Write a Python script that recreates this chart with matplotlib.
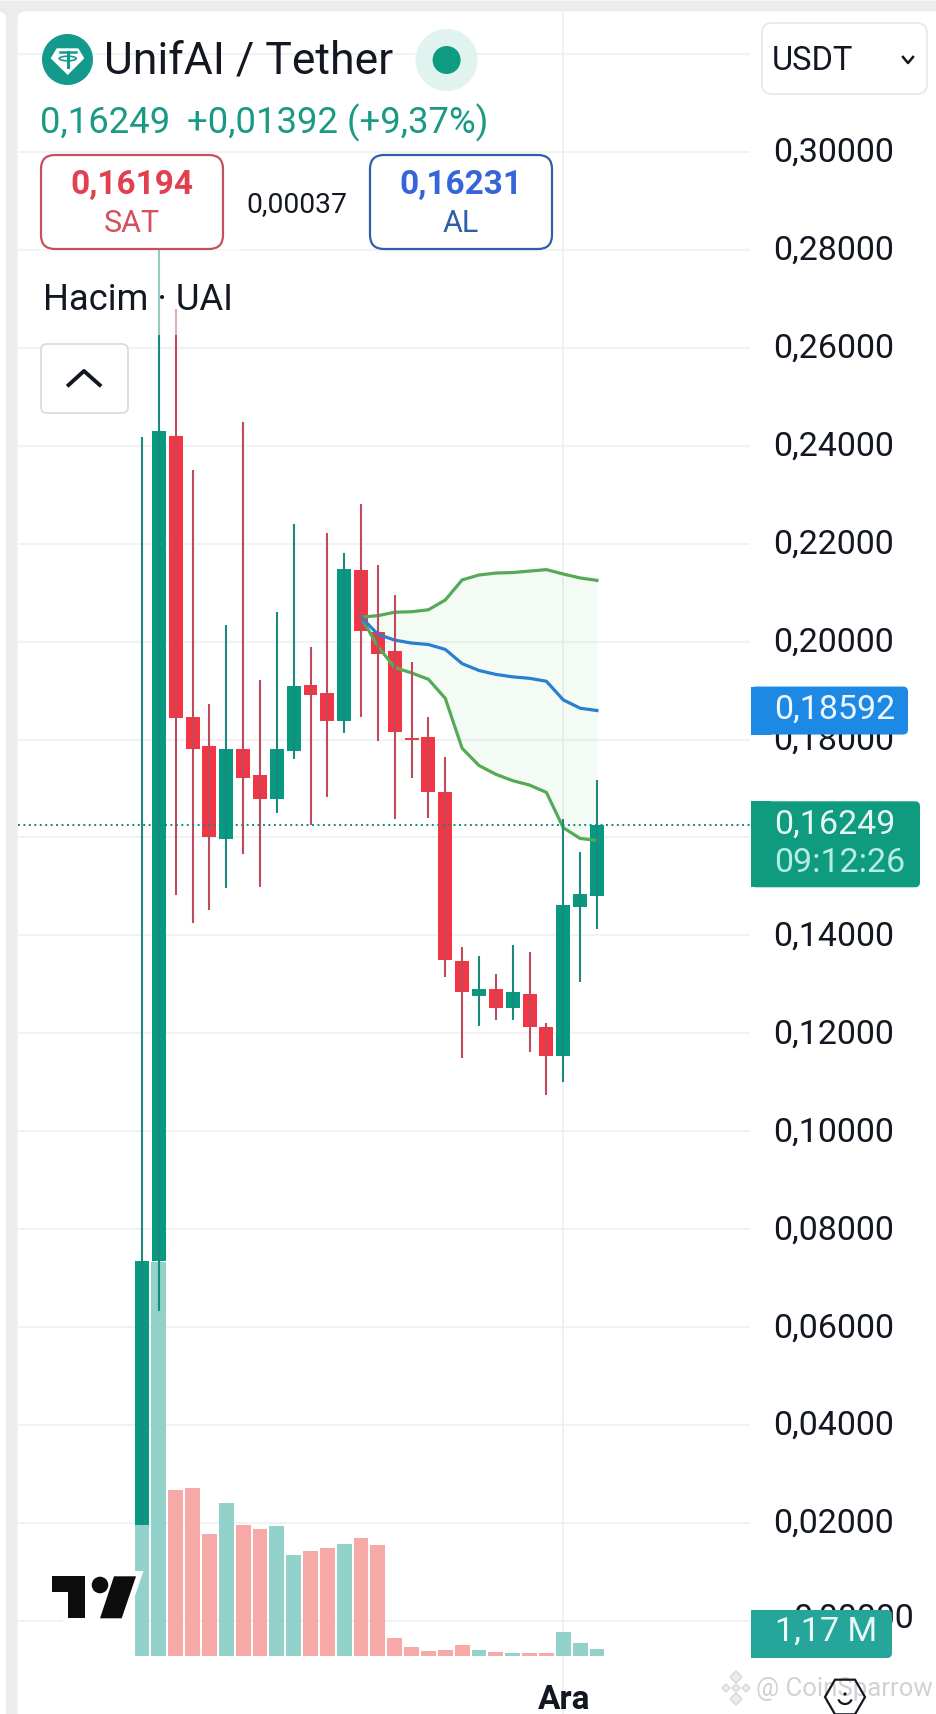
import numpy as np
import matplotlib
matplotlib.use('Agg')
import matplotlib.pyplot as plt
from matplotlib.patches import FancyBboxPatch, Circle, Polygon, Rectangle, Ellipse, Arc
from matplotlib.transforms import ScaledTranslation

plt.rcParams['font.family'] = ['Roboto', 'DejaVu Sans']

W, H = 936, 1715

# candles, oldest first
opens = [0.0196, 0.0735, 0.2420, 0.1846, 0.1787, 0.1597, 0.1781, 0.1728, 0.1679, 0.1777,
         0.1911, 0.1895, 0.1838, 0.2146, 0.2020, 0.1981, 0.1803, 0.1805, 0.1693, 0.1348,
         0.1276, 0.1291, 0.1252, 0.1280, 0.1213, 0.1154, 0.1458, 0.1480]
closes = [0.0735, 0.2430, 0.1844, 0.1781, 0.1601, 0.1781, 0.1721, 0.1679, 0.1781, 0.1909,
          0.1891, 0.1838, 0.2148, 0.2022, 0.1975, 0.1815, 0.1800, 0.1693, 0.1350, 0.1284,
          0.1291, 0.1252, 0.1284, 0.1213, 0.1154, 0.1462, 0.1485, 0.16249]
highs = [0.2418, 0.2800, 0.2680, 0.2350, 0.1873, 0.2034, 0.2448, 0.1922, 0.2060, 0.2240,
         0.1989, 0.2222, 0.2181, 0.2281, 0.2156, 0.2095, 0.1958, 0.1846, 0.1764, 0.1376,
         0.1358, 0.1321, 0.1380, 0.1366, 0.1221, 0.1638, 0.1570, 0.1717]
lows = [0.0196, 0.0633, 0.1482, 0.1425, 0.1452, 0.1497, 0.1566, 0.1499, 0.1650, 0.1760,
        0.1625, 0.1683, 0.1813, 0.1846, 0.1797, 0.1638, 0.1721, 0.1640, 0.1315, 0.1150,
        0.1215, 0.1227, 0.1227, 0.1162, 0.1074, 0.1100, 0.1305, 0.1413]
# volume in millions
volumes = [22.9, 69.2, 29.2, 29.4, 21.4, 26.9, 22.9, 22.3, 22.8, 17.8,
           18.4, 18.9, 19.6, 20.7, 19.4, 3.1, 1.5, 0.8, 1.0, 2.0,
           1.0, 0.64, 0.47, 0.47, 0.47, 4.15, 2.22, 1.17]

# indicator starts at candle 13
band_start = 13
upper = [0.2050, 0.2053, 0.2060, 0.2061, 0.2065, 0.2085, 0.2126, 0.2136, 0.2140, 0.2141,
         0.2144, 0.2147, 0.2138, 0.2130, 0.2125]
middle = [0.2050, 0.2015, 0.2003, 0.1997, 0.1994, 0.1984, 0.1955, 0.1941, 0.1933, 0.1928,
          0.1925, 0.1919, 0.1881, 0.1864, 0.18592]
lower = [0.2050, 0.1990, 0.1947, 0.1936, 0.1923, 0.1884, 0.1782, 0.1747, 0.1729, 0.1716,
         0.1707, 0.1692, 0.1620, 0.1598, 0.1594]

price_ticks = [0.00, 0.02, 0.04, 0.06, 0.08, 0.10, 0.12, 0.14, 0.16, 0.18,
               0.20, 0.22, 0.24, 0.26, 0.28, 0.30, 0.32]
last_price = 0.16249
last_mid = 0.18592
last_vol = 1.17
cross_idx = 25

RED = '#f23645'
GREEN = '#089981'
RED_W = '#bf4a5c'
GREEN_W = '#1b8a7c'

fig = plt.figure(figsize=(W / 100, H / 100), dpi=100, facecolor='#ececec')


def axes_px(left, top, right, bottom, z):
    a = fig.add_axes([left / W, 1 - bottom / H, (right - left) / W, (bottom - top) / H], zorder=z)
    a.patch.set_visible(False)
    for s in a.spines.values():
        s.set_visible(False)
    return a


def box(a, x0, y0, x1, y1, r, fc='white', ec='none', lw=1.5, z=3):
    p = FancyBboxPatch((x0 + r, y0 + r), x1 - x0 - 2 * r, y1 - y0 - 2 * r,
                       boxstyle='round,pad=%s,rounding_size=%s' % (r, r),
                       fc=fc, ec=ec, lw=lw, zorder=z)
    a.add_patch(p)


# page: grey gutter, white card
bg = axes_px(0, 0, W, H, 0)
bg.set_xlim(0, W)
bg.set_ylim(H, 0)
bg.axis('off')
bg.add_patch(Rectangle((0, 0), W, 2, fc='#f6f6f6', ec='none'))
box(bg, -30, 13, 6, H + 30, 7)
box(bg, 17.5, 12.5, W + 30, H + 30, 8)

# plot area in pixels and the scales that go with it
L, T, R, B = 18, 14, 750, 1715
xlim = ((L - 142) / 16.85, (R - 142) / 16.85)
ylim = ((1622 - B) / 4897, (1622 - T) / 4897)
vlim = ((1657 - B) / 5.7, (1657 - T) / 5.7)

# grid and price labels, lowest layer
ax = axes_px(L, T, R, B, 1)
ax.set_xlim(xlim)
ax.set_ylim(ylim)
ax.set_xticks([])
ax.yaxis.tick_right()
ax.set_yticks(price_ticks)
ax.set_yticklabels(['' if t == 0 else ('%.5f' % t).replace('.', ',') for t in price_ticks])
ax.tick_params(axis='y', length=0, pad=16.3, labelsize=24.5, labelcolor='#131722')
up_shift = ScaledTranslation(0, 3.5 / 100, fig.dpi_scale_trans)
for lab in ax.get_yticklabels():
    lab.set_transform(lab.get_transform() + up_shift)
ax.grid(axis='y', color='#f2f2f2', lw=1.5)
ax.axvline(cross_idx, color='#eeeeee', lw=1.2)
ax.text(1.0595, 0.0, '0,00000', transform=ax.get_yaxis_transform() + up_shift, fontsize=24.5,
        color='#131722', va='center', ha='left')

xs = np.arange(len(opens))
up = np.array(closes) >= np.array(opens)

# volume
axv = axes_px(L, T, R, B, 2)
axv.set_xlim(xlim)
axv.set_ylim(vlim)
axv.axis('off')
axv.bar(xs, volumes, width=0.88, color=['#92d2ca' if u else '#f7a9a7' for u in up])

# candles
axc = axes_px(L, T, R, B, 3)
axc.set_xlim(xlim)
axc.set_ylim(ylim)
axc.axis('off')
bx = np.arange(band_start, band_start + len(upper))
axc.fill_between(bx, lower, upper, color='#43c04a', alpha=0.055, lw=0)
axc.plot(bx, upper, color='#56a957', lw=2.3)
axc.plot(bx, lower, color='#56a957', lw=2.3)
axc.plot(bx, middle, color='#2a7fd0', lw=2.3)
axc.vlines(xs, lows, highs, colors=[GREEN_W if u else RED_W for u in up], lw=1.5)
bottoms = np.minimum(opens, closes)
heights = np.abs(np.array(closes) - np.array(opens))
axc.bar(xs, heights, bottom=bottoms, width=0.83, color=[GREEN if u else RED for u in up])
axc.axhline(last_price, color='#128c7c', lw=1.4, ls=(0, (1, 1.8)), zorder=3)

# everything around the chart, in pixels
ui = axes_px(0, 0, W, H, 5)
ui.set_xlim(0, W)
ui.set_ylim(H, 0)
ui.axis('off')

# legend veil over the chart
ui.add_patch(Rectangle((40, 250), 200, 86, fc='white', ec='none', alpha=0.55, zorder=1))

# logo and title
TEAL = '#149a8c'
ui.add_patch(Circle((67.5, 60.5), 25.5, fc=TEAL, ec='none', zorder=3))
ui.add_patch(Polygon([(56.7, 49.3), (78.3, 49.3), (84.3, 59.3), (67.7, 76), (50.7, 59.3)],
                     fc='white', ec='none', zorder=3.1))
ui.plot([59.5, 76], [53, 53], color=TEAL, lw=1.8, zorder=3.2)
ui.plot([67.7, 67.7], [53, 68], color=TEAL, lw=2.2, zorder=3.2)
ui.add_patch(Ellipse((67.7, 59.5), 17, 4.5, fc='none', ec=TEAL, lw=1.2, zorder=3.2))
ui.text(104, 62, 'UnifAI / Tether', fontsize=32, color='#131722', va='center', zorder=4)
ui.add_patch(Circle((446.6, 61), 31, fc='#e0f3ef', ec='none', zorder=3))
ui.add_patch(Circle((446.6, 61), 14, fc='#0e9b80', ec='none', zorder=3.1))
ui.text(40, 123, '0,16249', fontsize=26.3, color='#1a9a85', va='center', zorder=4)
ui.text(187, 123, '+0,01392 (+9,37%)', fontsize=26.3, color='#1a9a85', va='center', zorder=4)

# sell / buy
box(ui, 41, 156, 223, 250, 14, ec='#c8505c', lw=1.6)
ui.text(132, 185, '0,16194', fontsize=24, fontweight='bold', color='#e2404f', ha='center', va='center', zorder=4)
ui.text(132, 223, 'SAT', fontsize=22, color='#d6505c', ha='center', va='center', zorder=4)
ui.text(297, 205, '0,00037', fontsize=20.3, color='#131722', ha='center', va='center', zorder=4)
box(ui, 370, 156, 552, 250, 14, ec='#2f5fa8', lw=1.6)
ui.text(461, 185, '0,16231', fontsize=24, fontweight='bold', color='#3565d8', ha='center', va='center', zorder=4)
ui.text(461, 223, 'AL', fontsize=22, color='#2f5fa8', ha='center', va='center', zorder=4)

ui.text(43, 300, 'Hacim · UAI', fontsize=26.2, color='#131722', va='center', zorder=4)
box(ui, 41, 345, 128, 414, 6, ec='#dcdcdc', lw=1.3)
ui.plot([68.6, 84, 99.7], [386, 372, 386], color='#131722', lw=2.8, zorder=4)

# currency selector
box(ui, 762, 24, 927, 95, 10, ec='#e8e8e8', lw=1.3)
ui.text(772, 61, 'USDT', fontsize=23.5, color='#131722', va='center', zorder=4)
ui.plot([903, 908, 913], [58, 64, 58], color='#131722', lw=1.8, zorder=4)


# price tags, square on the left and round on the right
def price_y(p):
    return 1622 - 4897 * p


def tag(x0, y0, x1, y1, color):
    box(ui, x0, y0, x1, y1, 5, fc=color, z=3)
    ui.add_patch(Rectangle((x0, y0), 20, y1 - y0, fc=color, ec='none', zorder=3))


yb = price_y(last_mid)
tag(751, yb - 24, 908, yb + 24, '#1e88e5')
ui.text(774, yb - 2, ('%.5f' % last_mid).replace('.', ','), fontsize=24.5, color='#eef7ff', va='center', zorder=4)
yg = price_y(last_price)
tag(751, yg - 24, 920, yg + 62, '#0f9b80')
ui.text(774, yg - 2, ('%.5f' % last_price).replace('.', ','), fontsize=24.5, color='#e6f7f2', va='center', zorder=4)
ui.text(774, yg + 37, '09:12:26', fontsize=24.5, color='#b5ede0', va='center', zorder=4)
tag(751, 1611, 892, 1659, '#26a69a')
ui.text(775, 1632, ('%.2f M' % last_vol).replace('.', ','), fontsize=24.5, color='#e9faf6', va='center', zorder=4)

# time label
ui.text(564, 1700, 'Ara', fontsize=24, fontweight='bold', color='#131722', ha='center', va='center', zorder=4)

# tradingview mark
ui.add_patch(Rectangle((63, 1572), 72, 53, fc='white', ec='none', zorder=2))
ui.add_patch(Polygon([(135, 1572), (143.5, 1572), (135, 1597)], fc='white', ec='none', zorder=2))
ui.add_patch(Polygon([(51.7, 1577.3), (85, 1577.3), (85, 1619.3), (68.3, 1619.3), (68.3, 1593.3), (51.7, 1593.3)],
                     fc='#0d0d0d', ec='none', zorder=3))
ui.add_patch(Circle((100, 1586), 8.3, fc='#0d0d0d', ec='none', zorder=3))
ui.add_patch(Polygon([(114, 1577.3), (136, 1577.3), (121.7, 1619.3), (100, 1619.3)], fc='#0d0d0d', ec='none', zorder=3))

# watermark
for cx, cy, s in [(736, 1678, 6), (726, 1689, 4), (736, 1689, 4), (746, 1689, 4), (736, 1700, 6)]:
    ui.add_patch(Polygon([(cx, cy - s), (cx + s, cy), (cx, cy + s), (cx - s, cy)],
                         fc='#ededed', ec='#d8d8d8', lw=1, zorder=3))
ui.text(756, 1689, '@ CoinSparrow', fontsize=18.5, color='#d2d2d2', va='center', zorder=3)
hx = [845 + 20 * np.cos(a) for a in np.radians([60, 0, -60, -120, 180, 120])]
hy = [1698 + 20 * np.sin(a) for a in np.radians([60, 0, -60, -120, 180, 120])]
ui.add_patch(Polygon(list(zip(hx, hy)), fc='none', ec='#131722', lw=1.6, zorder=3.5))
ui.add_patch(Circle((845, 1695), 1.6, fc='#131722', ec='none', zorder=3.5))
ui.add_patch(Arc((845, 1698), 14, 14, theta1=20, theta2=160, ec='#131722', lw=1.6, zorder=3.5))

fig.savefig('out.png', dpi=100, facecolor=fig.get_facecolor())
